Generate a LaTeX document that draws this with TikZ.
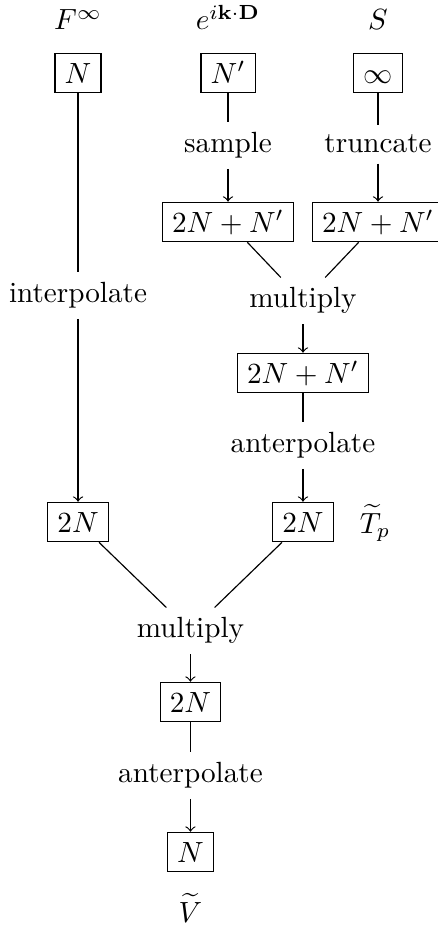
\documentclass[tikz,border=0pt]{standalone}
\usepackage{amsmath}
\usepackage{amssymb}
\usepackage{tikz}
\usetikzlibrary{positioning}

\begin{document}
\begin{tikzpicture}[
  box/.style={draw, inner sep=3.3pt, text height=1.6ex, text depth=0pt},
  lbl/.style={anchor=base, inner sep=3.3pt},
  arr/.style={->}
]
  \useasboundingbox (0,0) rectangle (5.259,-11.131);

  % Column heads
  \node[lbl] (hF) at (0.939,-0.361) {$F^\infty$};
  \node[lbl] (hE) at (2.744,-0.361) {$e^{i\mathbf{k}\cdot\mathbf{D}}$};
  \node[lbl] (hS) at (4.549,-0.361) {$S$};

  % Top row
  \node[box] (nF) at (0.939,-0.878) {$N$};
  \node[box] (nE) at (2.744,-0.878) {$N'$};
  \node[box] (nS) at (4.549,-0.878) {$\infty$};

  \node[lbl] (samp) at (2.744,-1.841) {sample};
  \node[lbl] (trunc) at (4.549,-1.841) {truncate};

  \node[box] (sE) at (2.744,-2.671) {$2N+N'$};
  \node[box] (sS) at (4.549,-2.671) {$2N+N'$};

  \node[lbl] (interp) at (0.939,-3.646) {interpolate};
  \node[lbl] (mulA) at (3.646,-3.706) {multiply};

  \node[box] (prod) at (3.646,-4.489) {$2N+N'$};
  \node[lbl] (antA) at (3.646,-5.451) {anterpolate};

  % Second level
  \node[box] (fF) at (0.939,-6.282) {$2N$};
  \node[box] (tp) at (3.646,-6.282) {$2N$};
  \node[lbl] (tpname) at (4.513,-6.414) {$\widetilde{T}_p$};

  \node[lbl] (mulB) at (2.292,-7.677) {multiply};
  \node[box] (prodB) at (2.292,-8.448) {$2N$};
  \node[lbl] (antB) at (2.292,-9.422) {anterpolate};
  \node[box] (out) at (2.292,-10.253) {$N$};
  \node[lbl] (outname) at (2.292,-11.095) {$\widetilde{V}$};

  % Connectors
  \draw (nE) -- (samp);
  \draw[arr] (samp) -- (sE);
  \draw (nS) -- (trunc);
  \draw[arr] (trunc) -- (sS);
  \draw (sE) -- (mulA);
  \draw (sS) -- (mulA);
  \draw[arr] (mulA) -- (prod);
  \draw (prod) -- (antA);
  \draw[arr] (antA) -- (tp);
  \draw (nF) -- (interp);
  \draw[arr] (interp) -- (fF);
  \draw (fF) -- (mulB);
  \draw (tp) -- (mulB);
  \draw[arr] (mulB) -- (prodB);
  \draw (prodB) -- (antB);
  \draw[arr] (antB) -- (out);
\end{tikzpicture}
\end{document}
